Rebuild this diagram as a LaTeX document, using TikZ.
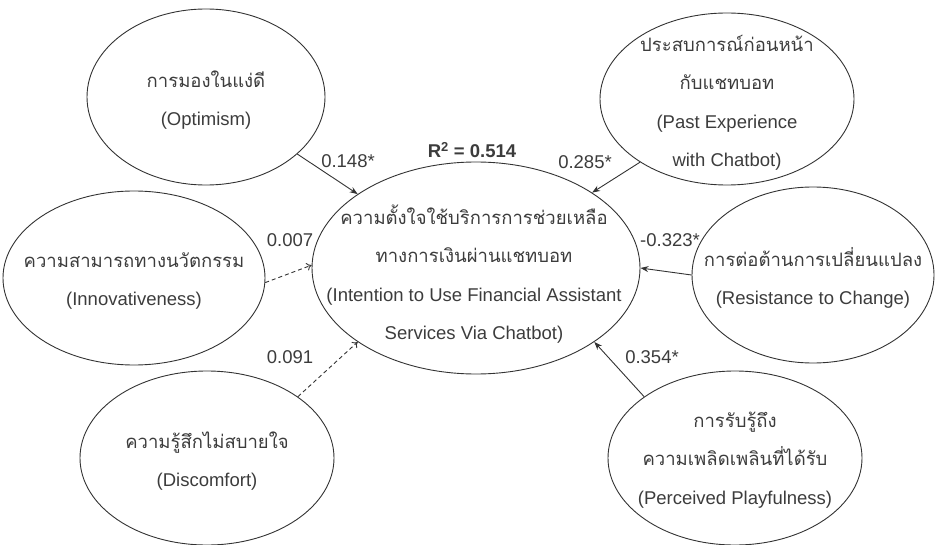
\documentclass[tikz,border=0pt]{standalone}
\usepackage{fontspec}
\setmainfont{Liberation Sans}
\newfontfamily\thai[Script=Thai]{Loma}
\usetikzlibrary{shapes.geometric,arrows.meta}
\definecolor{ink}{HTML}{3C3C3C}
\definecolor{edge}{HTML}{333333}
\tikzset{
  x=1pt,y=-1pt,
  construct/.style={ellipse,draw=edge,line width=0.9pt,inner sep=0pt},
  ctext/.style={inner sep=0pt,align=center,text=ink,font=\fontsize{18.5}{38.5}\selectfont},
  coef/.style={text=ink,font=\fontsize{18.5}{22}\selectfont,inner sep=0pt},
  sig/.style={draw=edge,line width=0.9pt,-{Stealth[length=8pt,width=6pt]}},
  nsig/.style={draw=edge,line width=0.9pt,dashed,dash pattern=on 4pt off 3pt,-{To[length=5pt,width=8pt]}}
}
\begin{document}
\begin{tikzpicture}
\useasboundingbox (0,0) rectangle (936,545);
\node[construct,minimum width=328pt,minimum height=212pt] (ctr) at (476,268) {};
\node[ctext] (ctrt) at (474,274)
  {{\thai ความตั้งใจใช้บริการการช่วยเหลือ}\\{\thai ทางการเงินผ่านแชทบอท}\\(Intention to Use Financial Assistant\\Services Via Chatbot)};
\node[construct,minimum width=238pt,minimum height=176pt] (opt) at (206,97) {};
\node[ctext] (optt) at (206,100) {{\thai การมองในแง่ดี}\\(Optimism)};
\node[construct,minimum width=262pt,minimum height=174pt] (inn) at (134,278) {};
\node[ctext] (innt) at (134,281) {{\thai ความสามารถทางนวัตกรรม}\\(Innovativeness)};
\node[construct,minimum width=254pt,minimum height=174pt] (dis) at (207,458) {};
\node[ctext] (dist) at (207,461) {{\thai ความรู้สึกไม่สบายใจ}\\(Discomfort)};
\node[construct,minimum width=254pt,minimum height=172pt] (pas) at (727,99) {};
\node[ctext] (past) at (727,103) {{\thai ประสบการณ์ก่อนหน้า}\\{\thai กับแชทบอท}\\(Past Experience\\with Chatbot)};
\node[construct,minimum width=242pt,minimum height=176pt] (res) at (813,275) {};
\node[ctext] (rest) at (813,278) {{\thai การต่อต้านการเปลี่ยนแปลง}\\(Resistance to Change)};
\node[construct,minimum width=254pt,minimum height=174pt] (pla) at (735,458) {};
\node[ctext] (plat) at (735,460) {{\thai การรับรู้ถึง}\\{\thai ความเพลิดเพลินที่ได้รับ}\\(Perceived Playfulness)};

\draw[sig] (opt.-32) -- (ctr.148);
\draw[sig] (pas.216) -- (ctr.33);
\draw[nsig] (inn.-2) -- (ctr.179);
\draw[nsig] (dis.34) -- (ctr.212);
\draw[sig] (res.180) -- (ctr.0);
\draw[sig] (pla.146) -- (ctr.-32);

\node[coef] (r2) at (472,150) {\textbf{R\textsuperscript{2} = 0.514}};
\node[coef] (l1) at (348,161) {0.148*};
\node[coef] (l2) at (585,162) {0.285*};
\node[coef] (l3) at (290,240) {0.007};
\node[coef] (l4) at (670,240) {-0.323*};
\node[coef] (l5) at (290,357) {0.091};
\node[coef] (l6) at (652,357) {0.354*};
\end{tikzpicture}
\end{document}
